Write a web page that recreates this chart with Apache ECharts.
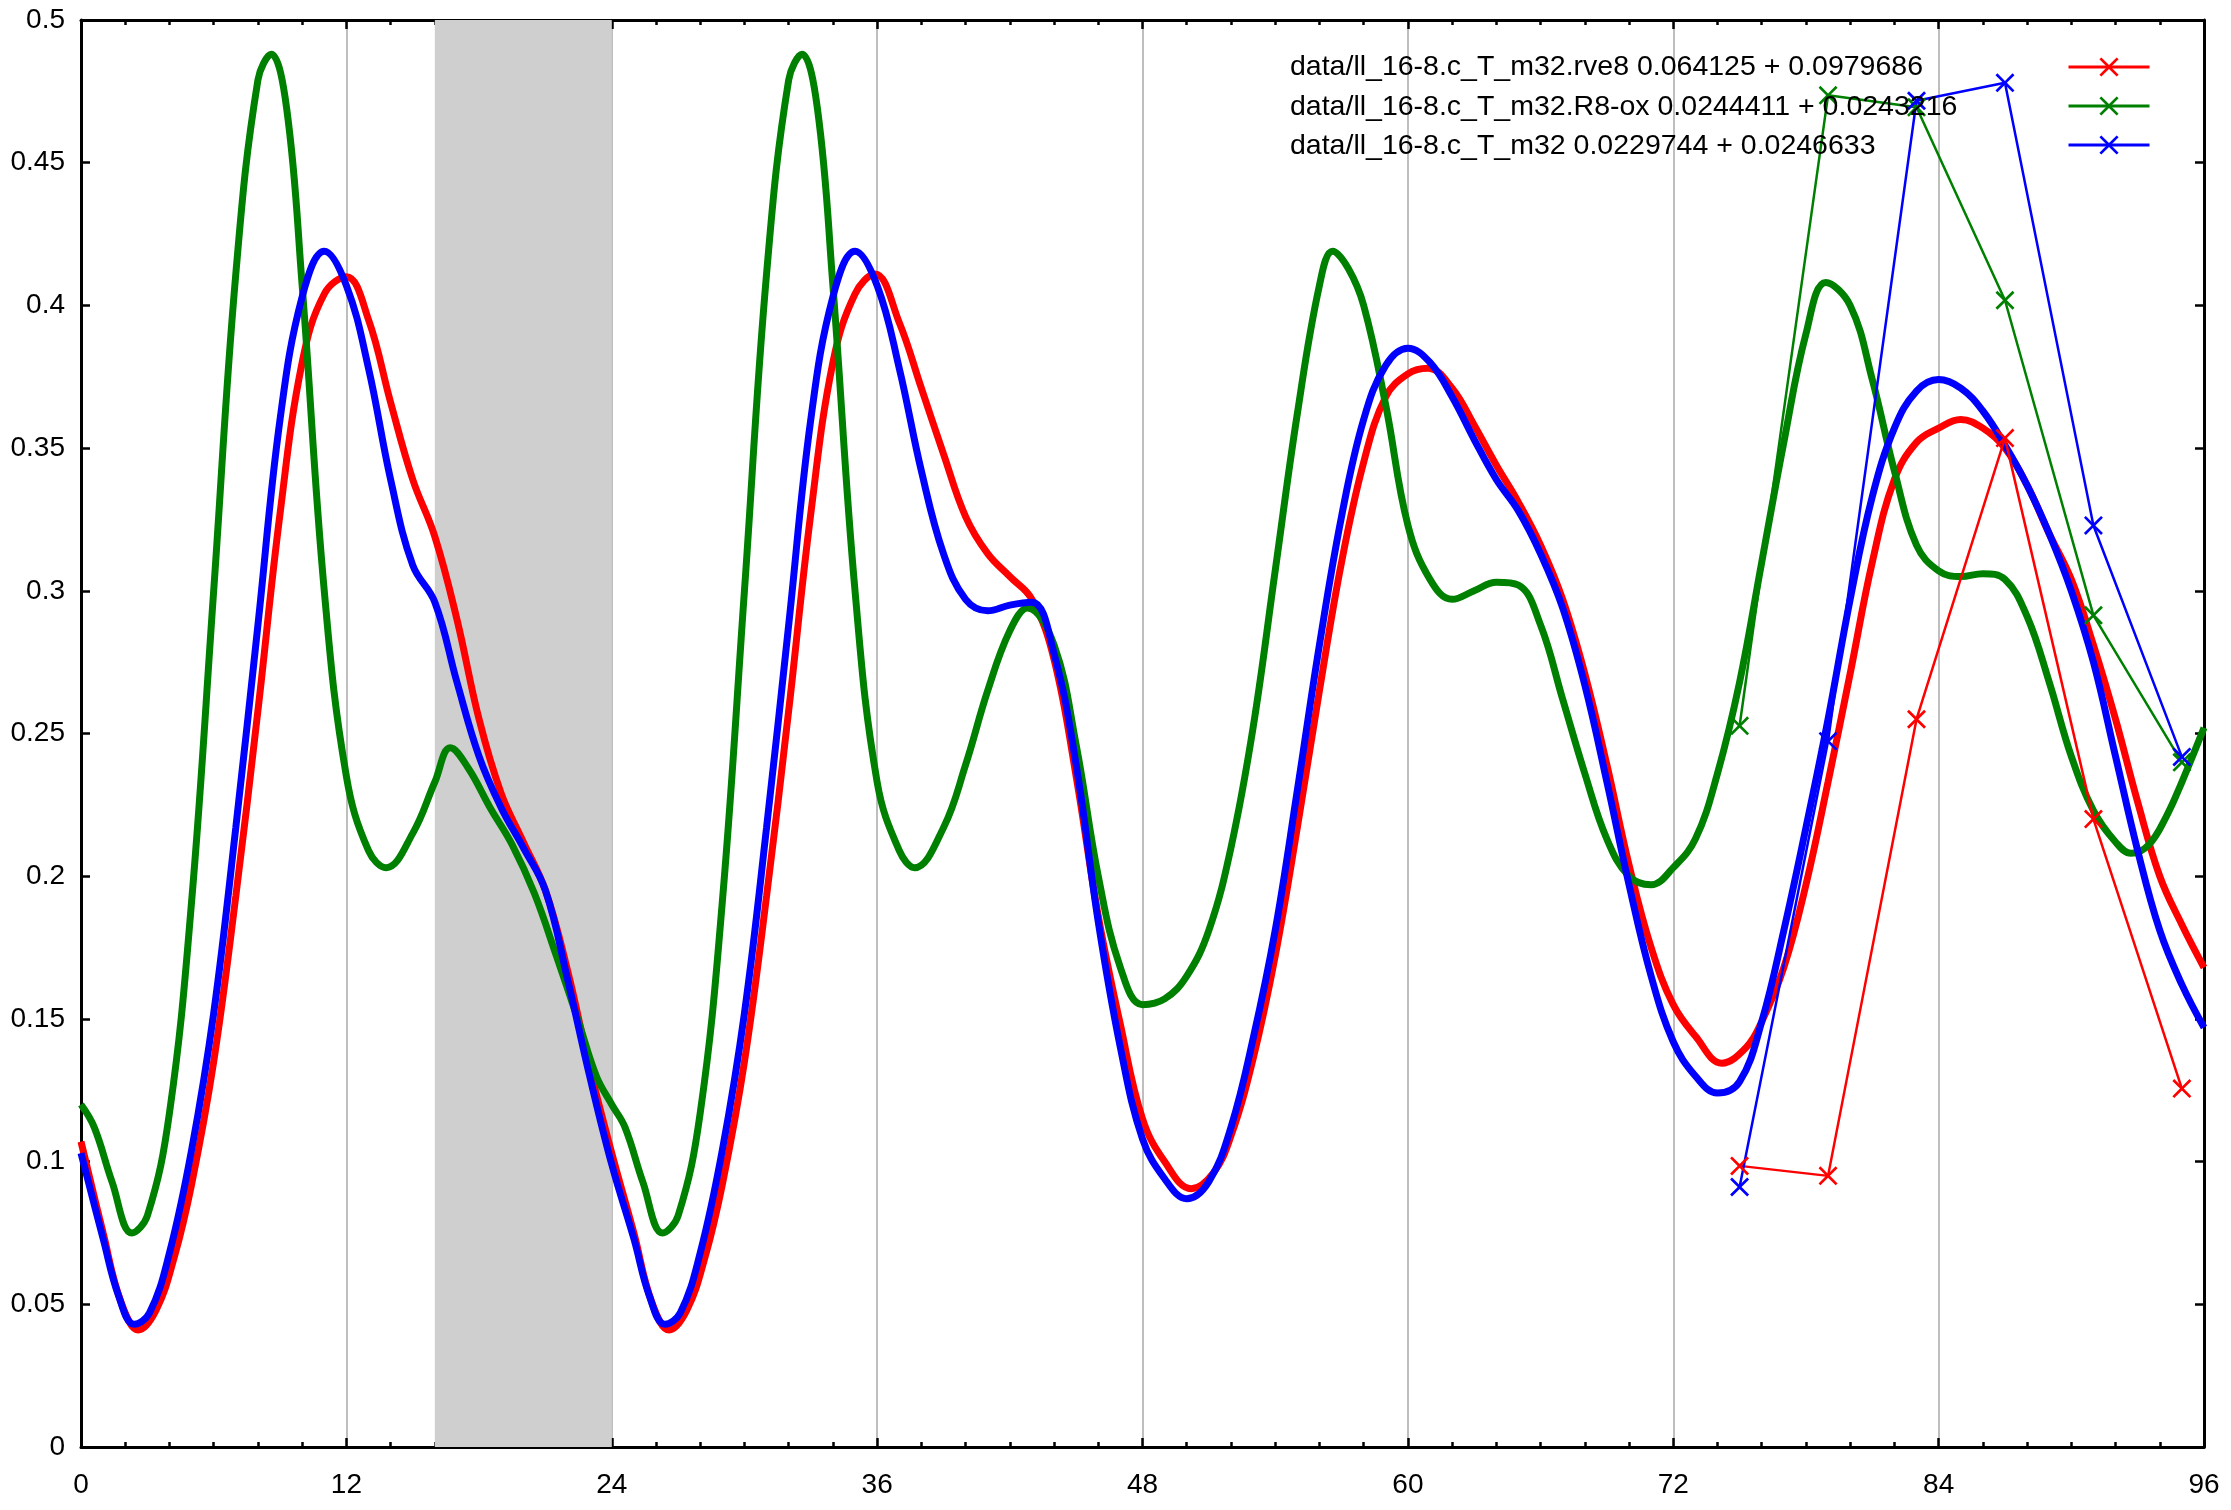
<!DOCTYPE html>
<html>
<head>
<meta charset="utf-8">
<script src="https://cdn.jsdelivr.net/npm/echarts@6/dist/echarts.min.js"></script>
<style>
html,body{margin:0;padding:0;background:#fff;}
#chart{width:2231px;height:1510px;}
</style>
</head>
<body>
<div id="chart"></div>
<script>
// ---- data ----
const xTicks = [0, 12, 24, 36, 48, 60, 72, 84, 96];
const bandRange = [16, 24];

const redCurve = [[0,0.107],[1,0.075],[1.8,0.051],[2.6,0.041],[3.4,0.048],[4.2,0.066],[5,0.092],[6,0.135],[7,0.193],[8,0.258],[9,0.327],[10,0.380],[11,0.404],[12,0.410],[13,0.395],[14,0.366],[15,0.339],[16,0.319],[17,0.290],[18,0.255],[19,0.229],[20,0.212],[21,0.195],[22,0.167],[23,0.133],[24,0.103],
  [25,0.075],[25.8,0.051],[26.6,0.041],[27.4,0.048],[28.2,0.066],[29,0.092],[30,0.135],[31,0.193],[32,0.258],[33,0.327],[34,0.380],[35,0.404],[35.9,0.411],[37,0.394],[38,0.371],[39,0.348],[40,0.326],[41,0.313],[42,0.305],[43,0.297],[44,0.276],[45,0.235],[46,0.186],[47,0.148],[48,0.115],
  [49,0.100],[50.2,0.0905],[51.2,0.096],[52,0.109],[53,0.136],[54,0.172],[55,0.217],[56,0.265],[57,0.310],[58,0.345],[59,0.368],[60,0.376],[60.9,0.378],[62,0.371],[63,0.358],[64,0.344],[65,0.331],[66,0.316],[67,0.297],[68,0.271],[69,0.239],[70,0.204],[71,0.175],[72,0.155],
  [73,0.144],[74.2,0.1345],[75.3,0.140],[76,0.149],[77,0.168],[78,0.197],[79,0.233],[80,0.271],[81,0.310],[82,0.339],[83,0.352],[84,0.357],[85,0.360],[86,0.357],[87,0.350],[88,0.337],[89,0.320],[90,0.304],[91,0.281],[92,0.255],[93,0.226],[94,0.200],[95,0.183],[96,0.168]];

const greenCurve = [[0,0.120],[0.6,0.112],[1.4,0.093],[2.3,0.075],[3,0.081],[4,0.117],[5,0.191],[6,0.300],[7,0.411],[8,0.479],[8.6,0.488],[9.3,0.469],[10,0.407],[11,0.300],[12,0.235],[13,0.209],[13.8,0.203],[15,0.215],[16,0.233],[16.7,0.245],[17.5,0.238],[18.5,0.224],[19.5,0.211],[20.5,0.194],[21.5,0.172],[22.5,0.149],[23.3,0.130],[24,0.120],
  [24.6,0.112],[25.4,0.093],[26.3,0.075],[27,0.081],[28,0.117],[29,0.191],[30,0.300],[31,0.411],[32,0.479],[32.6,0.488],[33.3,0.469],[34,0.407],[35,0.300],[36,0.233],[37,0.209],[37.7,0.203],[39,0.217],[40,0.239],[41,0.265],[42,0.286],[42.8,0.294],[44,0.281],[45,0.246],[46,0.200],[47,0.168],[48,0.155],
  [49,0.157],[50,0.165],[51,0.181],[52,0.210],[53,0.252],[54,0.307],[55,0.362],[56,0.407],[56.6,0.419],[57.3,0.413],[58,0.400],[59,0.365],[60,0.323],[61,0.304],[62,0.297],[63,0.300],[64,0.303],[65,0.302],[66,0.288],[67,0.262],[68,0.236],[69,0.213],[70,0.200],[71,0.197],[72,0.203],
  [73,0.213],[74,0.236],[75,0.268],[76,0.310],[77,0.352],[78,0.390],[78.9,0.408],[80,0.400],[81,0.374],[82,0.342],[83,0.316],[84,0.307],[85,0.305],[86,0.306],[87,0.304],[88,0.291],[89,0.268],[90,0.242],[91,0.223],[92,0.212],[92.7,0.208],[93.5,0.211],[94.3,0.221],[95,0.233],[96,0.252]];

const blueCurve = [[0,0.103],[1,0.073],[1.7,0.053],[2.4,0.043],[3.1,0.047],[4,0.068],[5,0.104],[6,0.152],[7,0.217],[8,0.288],[9,0.360],[10,0.403],[11,0.419],[12,0.407],[13,0.378],[14,0.339],[15,0.309],[16,0.296],[17,0.268],[18,0.242],[19,0.224],[20,0.210],[21,0.195],[22,0.164],[23,0.130],[24,0.099],
  [25,0.073],[25.7,0.053],[26.4,0.043],[27.1,0.047],[28,0.068],[29,0.104],[30,0.152],[31,0.217],[32,0.288],[33,0.360],[34,0.403],[35,0.419],[36,0.407],[37,0.378],[38,0.342],[39,0.313],[40,0.297],[41,0.293],[42,0.295],[43,0.296],[44,0.278],[45,0.239],[46,0.184],[47,0.140],[48,0.108],
  [49,0.094],[50,0.087],[51,0.093],[52,0.112],[53,0.143],[54,0.181],[55,0.230],[56,0.281],[57,0.326],[58,0.360],[59,0.379],[60,0.385],[61,0.380],[62,0.368],[63,0.353],[64,0.339],[65,0.328],[66,0.313],[67,0.294],[68,0.267],[69,0.233],[70,0.197],[71,0.165],[72,0.142],
  [73,0.130],[74,0.124],[75,0.128],[76,0.149],[77,0.181],[78,0.217],[79,0.255],[80,0.297],[81,0.333],[82,0.357],[83,0.370],[84,0.374],[85,0.371],[86,0.363],[87,0.351],[88,0.337],[89,0.320],[90,0.300],[91,0.275],[92,0.242],[93,0.209],[94,0.181],[95,0.162],[96,0.147]];

const pointX = [75, 79, 83, 87, 91, 95];
const redPts   = [0.0985, 0.095, 0.255, 0.3535, 0.220, 0.1256];
const greenPts = [0.2527, 0.4736, 0.4694, 0.4018, 0.2914, 0.2399];
const bluePts  = [0.0911, 0.2473, 0.4717, 0.4780, 0.3229, 0.2418];

const names = [
  'data/ll_16-8.c_T_m32.rve8 0.064125 + 0.0979686',
  'data/ll_16-8.c_T_m32.R8-ox 0.0244411 + 0.0243216',
  'data/ll_16-8.c_T_m32 0.0229744 + 0.0246633'
];
const colors = ['#ff0000', '#008000', '#0000ff'];

// ---- chart ----
const FONT = 'Liberation Sans';
const XMARK = 'path://M0,1L1,0L5,4L9,0L10,1L6,5L10,9L9,10L5,6L1,10L0,9L4,5Z';

function curve(data, color, extra) {
  return Object.assign({
    type: 'line', data: data, smooth: 0.4, symbol: 'none', showSymbol: false,
    lineStyle: { color: color, width: 7 }, itemStyle: { color: color }, silent: true, z: 2
  }, extra || {});
}
function pts(ys, color, name) {
  return {
    type: 'line', name: name, data: pointX.map((x, i) => [x, ys[i]]), symbol: XMARK, symbolSize: 19,
    lineStyle: { color: color, width: 2.5 }, itemStyle: { color: color }, silent: true, z: 3
  };
}

const axisCommonX = {
  type: 'value', min: 0, max: 96, interval: 12,
  axisLine: { show: true, onZero: false, lineStyle: { color: '#000', width: 3 } },
  axisTick: { show: true, inside: true, length: 9, lineStyle: { color: '#000', width: 2.5 } },
  minorTick: { show: true, splitNumber: 6, length: 5, lineStyle: { color: '#000', width: 2.5 } }
};
const axisCommonY = {
  type: 'value', min: 0, max: 0.5, interval: 0.05,
  axisLine: { show: true, onZero: false, lineStyle: { color: '#000', width: 3 } },
  axisTick: { show: true, inside: true, length: 9, lineStyle: { color: '#000', width: 2.5 } },
  minorTick: { show: false },
  splitLine: { show: false }
};

const chart = echarts.init(document.getElementById('chart'), null, { renderer: 'canvas' });
chart.setOption({
  animation: false,
  backgroundColor: '#ffffff',
  textStyle: { fontFamily: FONT },
  grid: { left: 81, right: 27, top: 20, bottom: 63, containLabel: false },
  xAxis: [
    Object.assign({}, axisCommonX, {
      position: 'bottom',
      axisLabel: { show: true, color: '#000', fontSize: 28, fontFamily: FONT, margin: 24 },
      splitLine: { show: true, lineStyle: { color: '#a8a8a8', width: 1.5 } }
    }),
    Object.assign({}, axisCommonX, {
      position: 'top', axisLabel: { show: false }, splitLine: { show: false }
    })
  ],
  yAxis: [
    Object.assign({}, axisCommonY, {
      position: 'left',
      axisLabel: { show: true, color: '#000', fontSize: 28, fontFamily: FONT, margin: 16 }
    }),
    Object.assign({}, axisCommonY, {
      position: 'right', axisLabel: { show: false }
    })
  ],
  legend: [
    {
      data: names, orient: 'vertical', left: 1284, top: 53, padding: 0,
      icon: 'none', itemWidth: 1, itemHeight: 10, itemGap: 10.5, selectedMode: false,
      textStyle: { fontSize: 28.5, fontFamily: FONT, color: '#000', lineHeight: 28 }
    },
    {
      data: names, orient: 'vertical', left: 2067, top: 55, padding: 0,
      itemWidth: 81, itemHeight: 24, itemGap: 17.4, selectedMode: false,
      lineStyle: { width: 3 },
      formatter: function () { return ''; },
      textStyle: { fontSize: 1 }
    }
  ],
  series: [
    curve(redCurve, colors[0], {
      markArea: {
        silent: true,
        itemStyle: { color: '#cfcfcf', opacity: 1 },
        data: [[{ xAxis: bandRange[0] }, { xAxis: bandRange[1] }]]
      }
    }),
    curve(greenCurve, colors[1]),
    curve(blueCurve, colors[2]),
    pts(redPts, colors[0], names[0]),
    pts(greenPts, colors[1], names[1]),
    pts(bluePts, colors[2], names[2])
  ]
});
</script>
</body>
</html>
